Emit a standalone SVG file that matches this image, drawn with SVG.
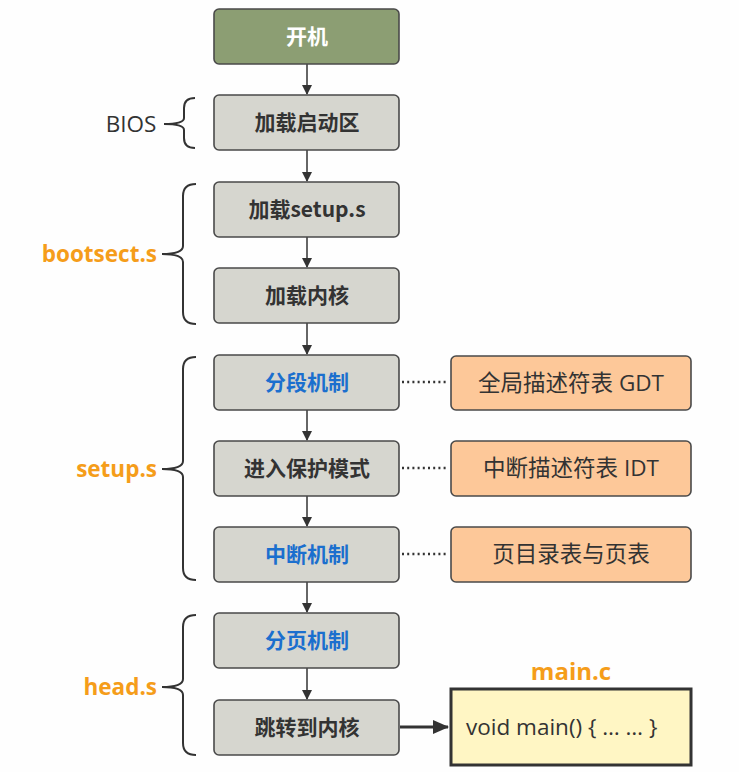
<svg xmlns="http://www.w3.org/2000/svg" width="739" height="772" viewBox="0 0 739 772">
<defs>
<style>
.box{fill:#d6d6cf;stroke:#4a4a4a;stroke-width:1.6}
.start{fill:#8c9e73;stroke:#4a4a4a;stroke-width:1.6}
.side{fill:#fdc899;stroke:#4a4a4a;stroke-width:1.6}
.main{fill:#fff6c4;stroke:#333;stroke-width:3}
.t{font-family:"Noto Sans CJK SC","Open Sans",sans-serif;font-size:21px;font-weight:bold;text-anchor:middle;fill:#333}
.blue{fill:#1b6fce}
.white{fill:#fff}
.st{font-family:"Open Sans","Noto Sans CJK SC",sans-serif;font-size:22.5px;text-anchor:middle;fill:#333}
.lbl{font-family:"Open Sans","Noto Sans CJK SC",sans-serif;font-size:22.5px;font-weight:bold;fill:#f59d1a;text-anchor:end}
.brace{fill:none;stroke:#333;stroke-width:2}
.arr{stroke:#333;stroke-width:1.5;fill:none}
.dot{stroke:#333;stroke-width:2.4;stroke-dasharray:2 3.2;fill:none}
</style>
<marker id="ah" markerWidth="10" markerHeight="10" refX="9" refY="5" orient="auto" markerUnits="userSpaceOnUse">
<path d="M0,0 L10,5 L0,10 Z" fill="#333"/>
</marker>
<marker id="ahb" markerWidth="16" markerHeight="14" refX="15" refY="7" orient="auto" markerUnits="userSpaceOnUse">
<path d="M0,0 L16,7 L0,14 Z" fill="#333"/>
</marker>
</defs>
<rect width="739" height="772" fill="#fefefe"/>
<g id="connectors">
<path class="arr" d="M307,64 V94" marker-end="url(#ah)"/>
<path class="arr" d="M307,150 V181" marker-end="url(#ah)"/>
<path class="arr" d="M307,237 V267" marker-end="url(#ah)"/>
<path class="arr" d="M307,323 V354" marker-end="url(#ah)"/>
<path class="arr" d="M307,409 V440" marker-end="url(#ah)"/>
<path class="arr" d="M307,496 V526" marker-end="url(#ah)"/>
<path class="arr" d="M307,582 V612" marker-end="url(#ah)"/>
<path class="arr" d="M307,668 V699" marker-end="url(#ah)"/>
<path class="dot" d="M402,382 H448"/>
<path class="dot" d="M402,468 H448"/>
<path class="dot" d="M402,554 H448"/>
<path d="M400,727 H448" stroke="#333" stroke-width="3" fill="none" marker-end="url(#ahb)"/>
</g>
<g id="braces">
<path class="brace" d="M195,98 Q184,98 184,108 L184,118 Q184,124 164,124 Q184,124 184,130 L184,138 Q184,148 195,148"/>
<path class="brace" d="M196,184 Q183,184 183,196 L183,246 Q183,254 162,254 Q183,254 183,262 L183,312 Q183,324 196,324"/>
<path class="brace" d="M196,357 Q183,357 183,369 L183,461 Q183,469 162,469 Q183,469 183,477 L183,568 Q183,580 196,580"/>
<path class="brace" d="M196,615 Q183,615 183,627 L183,679 Q183,687 162,687 Q183,687 183,695 L183,743 Q183,755 196,755"/>
</g>
<g id="label-bios"><text class="st" x="131" y="132">BIOS</text></g>
<g id="label-bootsect"><text class="lbl" x="157" y="262">bootsect.s</text></g>
<g id="label-setup"><text class="lbl" x="157" y="477">setup.s</text></g>
<g id="label-head"><text class="lbl" x="157" y="695">head.s</text></g>
<g id="n-start"><rect class="start" x="214" y="9" width="185" height="55" rx="5"/><text class="t white" x="307" y="44">开机</text></g>
<g id="n-boot"><rect class="box" x="214" y="95" width="185" height="55" rx="5"/><text class="t" x="307" y="130">加载启动区</text></g>
<g id="n-setup"><rect class="box" x="214" y="182" width="185" height="55" rx="5"/><text class="t" x="307" y="217">加载setup.s</text></g>
<g id="n-kernel"><rect class="box" x="214" y="268" width="185" height="55" rx="5"/><text class="t" x="307" y="303">加载内核</text></g>
<g id="n-seg"><rect class="box" x="214" y="355" width="185" height="55" rx="5"/><text class="t blue" x="307" y="390">分段机制</text></g>
<g id="n-prot"><rect class="box" x="214" y="441" width="185" height="55" rx="5"/><text class="t" x="307" y="476">进入保护模式</text></g>
<g id="n-int"><rect class="box" x="214" y="527" width="185" height="55" rx="5"/><text class="t blue" x="307" y="562">中断机制</text></g>
<g id="n-page"><rect class="box" x="214" y="613" width="185" height="55" rx="5"/><text class="t blue" x="307" y="648">分页机制</text></g>
<g id="n-jump"><rect class="box" x="214" y="700" width="185" height="55" rx="5"/><text class="t" x="307" y="735">跳转到内核</text></g>
<g id="n-gdt"><rect class="side" x="451" y="356" width="240" height="54" rx="5"/><text class="st" x="571" y="391">全局描述符表 GDT</text></g>
<g id="n-idt"><rect class="side" x="451" y="441" width="240" height="55" rx="5"/><text class="st" x="571" y="476">中断描述符表 IDT</text></g>
<g id="n-pt"><rect class="side" x="451" y="527" width="240" height="55" rx="5"/><text class="st" x="571" y="562">页目录表与页表</text></g>
<g id="n-main">
<text class="lbl" x="571" y="680" style="text-anchor:middle;font-size:24px">main.c</text>
<rect class="main" x="451" y="689" width="240" height="76"/>
<text class="st" x="466" y="735" style="text-anchor:start">void main() { … … }</text>
</g>
</svg>
